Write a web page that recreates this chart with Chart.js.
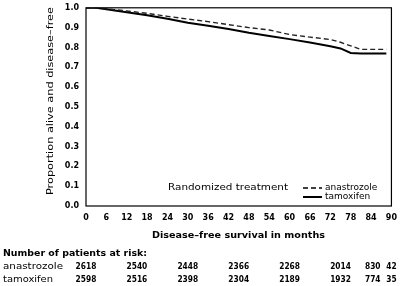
<!DOCTYPE html>
<html>
<head>
<meta charset="utf-8">
<script src="https://cdn.jsdelivr.net/npm/chart.js@4"></script>
<style>
  html, body { margin: 0; padding: 0; background: #fff; }
  #wrap { width: 400px; height: 286px; position: relative; }
</style>
</head>
<body>
<div id="wrap"><canvas id="myChart"></canvas></div>
<script>
// data block
const months = [0, 3, 6, 12, 18, 24, 30, 36, 42, 48, 54, 60, 66, 72, 75, 78, 81, 84, 88.5];
const anastrozole = [1.0, 1.0, 0.995, 0.984, 0.972, 0.957, 0.943, 0.93, 0.915, 0.9, 0.888, 0.865, 0.852, 0.84, 0.826, 0.808, 0.79, 0.79, 0.79];
const tamoxifen = [1.0, 1.0, 0.993, 0.978, 0.962, 0.945, 0.925, 0.91, 0.893, 0.874, 0.858, 0.842, 0.825, 0.806, 0.795, 0.772, 0.77, 0.77, 0.77];
const riskMonths = [0, 15, 30, 45, 60, 75, 84.5, 90];
const riskAnastrozole = [2618, 2540, 2448, 2366, 2268, 2014, 830, 42];
const riskTamoxifen = [2598, 2516, 2398, 2304, 2189, 1932, 774, 35];

const FONT = '"DejaVu Sans", Verdana, sans-serif';

const toPoints = (ys) => months.map((m, i) => ({ x: m, y: ys[i] }));

const data = {
    datasets: [{
        label: 'anastrozole',
        data: toPoints(anastrozole),
        borderColor: '#222',
        borderWidth: 1.4,
        borderDash: [5, 3],
        pointRadius: 0,
        tension: 0
    }, {
        label: 'tamoxifen',
        data: toPoints(tamoxifen),
        borderColor: '#000',
        borderWidth: 2,
        pointRadius: 0,
        tension: 0
    }]
};

// draws a string so that it fills a given width
const fitText = (ctx, text, x, y, w) => {
    const m = ctx.measureText(text).width;
    ctx.save();
    ctx.translate(x, y);
    ctx.scale(w / m, 1);
    ctx.fillText(text, 0, 0);
    ctx.restore();
};

// frame, titles, legend and risk table
const extras = {
    id: 'extras',
    afterDraw(chart) {
        const { ctx, chartArea: a, scales: { x } } = chart;
        ctx.save();
        ctx.strokeStyle = '#000';
        ctx.lineWidth = 1.2;
        ctx.strokeRect(a.left, a.top, a.right - a.left, a.bottom - a.top);

        ctx.fillStyle = '#000';
        ctx.textBaseline = 'middle';
        ctx.textAlign = 'left';

        // y title
        ctx.save();
        ctx.translate(51, 195);
        ctx.rotate(-Math.PI / 2);
        ctx.font = '9px ' + FONT;
        fitText(ctx, 'Proportion alive and disease\u2013free', 0, 0, 188);
        ctx.restore();

        // x title
        ctx.font = 'bold 9px ' + FONT;
        fitText(ctx, 'Disease\u2013free survival in months', 152, 236, 173);

        // legend
        ctx.font = '9px ' + FONT;
        fitText(ctx, 'Randomized treatment', 168, 188, 120);
        chart.data.datasets.forEach((ds, i) => {
            const y = 188 + i * 9;
            ctx.beginPath();
            ctx.setLineDash(ds.borderDash || []);
            ctx.lineWidth = ds.borderWidth;
            ctx.moveTo(303, y);
            ctx.lineTo(322, y);
            ctx.stroke();
            ctx.setLineDash([]);
            ctx.fillText(ds.label, 325, y);
        });

        // risk table
        ctx.font = 'bold 9px ' + FONT;
        fitText(ctx, 'Number of patients at risk:', 3, 254, 144);
        ctx.font = '9px ' + FONT;
        fitText(ctx, 'anastrozole', 3, 267, 60);
        fitText(ctx, 'tamoxifen', 3, 280, 50);
        ctx.font = 'bold 9px ' + FONT;
        riskMonths.forEach((m, i) => {
            const px = x.getPixelForValue(m);
            [[riskAnastrozole[i], 267], [riskTamoxifen[i], 280]].forEach(([v, y]) => {
                const s = String(v);
                const w = s.length * 5.2;
                fitText(ctx, s, px - w / 2, y, w);
            });
        });
        ctx.restore();
    }
};

// config block
const config = {
    type: 'line',
    data: data,
    plugins: [extras],
    options: {
        responsive: false,
        animation: false,
        layout: { padding: { left: 0, right: 8, top: 6, bottom: 0 } },
        scales: {
            x: {
                type: 'linear',
                min: 0,
                max: 90,
                grid: { display: false, drawTicks: true, tickLength: 4, tickColor: '#000' },
                border: { display: false },
                ticks: {
                    stepSize: 6,
                    autoSkip: false,
                    maxRotation: 0,
                    color: '#000',
                    padding: 3,
                    font: { family: FONT, size: 8, weight: 'bold' }
                },
                afterFit(scale) { scale.height = 80; }
            },
            y: {
                min: 0,
                max: 1,
                grid: { display: false, drawTicks: true, tickLength: 4, tickColor: '#000' },
                border: { display: false },
                ticks: {
                    stepSize: 0.1,
                    color: '#000',
                    padding: 3,
                    font: { family: FONT, size: 8, weight: 'bold' },
                    callback: (v) => v.toFixed(1)
                },
                afterFit(scale) { scale.width = 86; }
            }
        },
        plugins: {
            legend: { display: false },
            tooltip: { enabled: false }
        }
    }
};

// init render block
const canvas = document.getElementById('myChart');
canvas.width = 400;
canvas.height = 286;
const myChart = new Chart(canvas, config);
</script>
</body>
</html>
